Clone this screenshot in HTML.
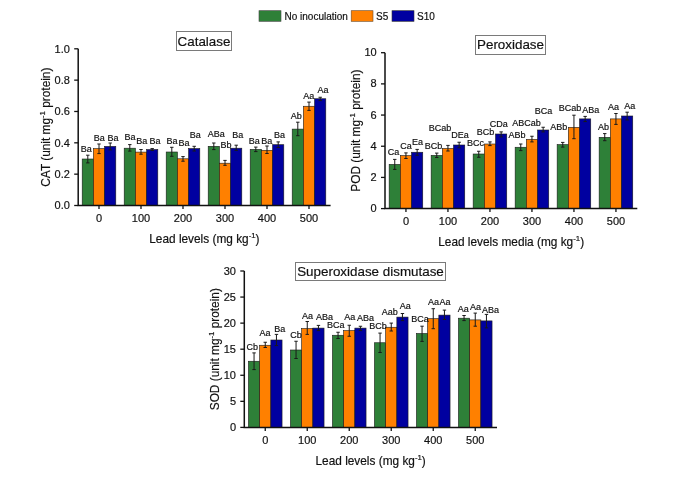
<!DOCTYPE html>
<html><head><meta charset="utf-8"><style>
html,body{margin:0;padding:0;background:#fff;width:685px;height:480px;overflow:hidden}
svg{display:block;will-change:transform}
text{font-family:"Liberation Sans", sans-serif;fill:#111;stroke:#111;stroke-width:0.18px}
</style></head><body>
<svg width="685" height="480" viewBox="0 0 685 480">
<rect width="685" height="480" fill="#fff"/>
<rect x="259" y="10.7" width="22" height="10.6" fill="#2e8038" stroke="#444" stroke-width="0.6"/>
<text x="284.5" y="19.6" font-size="10">No inoculation</text>
<rect x="351.2" y="10.7" width="21.8" height="10.6" fill="#ff8000" stroke="#6a4a2a" stroke-width="0.6"/>
<text x="376" y="19.6" font-size="10">S5</text>
<rect x="392" y="10.7" width="22" height="10.6" fill="#0000a0" stroke="#333" stroke-width="0.6"/>
<text x="417" y="19.6" font-size="10">S10</text>
<rect x="82.2" y="159" width="11.2" height="46.5" fill="#2e8038" stroke="#1a1a1a" stroke-width="0.6"/>
<rect x="93.4" y="148.6" width="11.2" height="56.9" fill="#ff8000" stroke="#1a1a1a" stroke-width="0.6"/>
<rect x="104.6" y="146.4" width="11.2" height="59.1" fill="#0000a0" stroke="#1a1a1a" stroke-width="0.6"/>
<rect x="124.2" y="148.2" width="11.2" height="57.3" fill="#2e8038" stroke="#1a1a1a" stroke-width="0.6"/>
<rect x="135.4" y="152.1" width="11.2" height="53.4" fill="#ff8000" stroke="#1a1a1a" stroke-width="0.6"/>
<rect x="146.6" y="149.5" width="11.2" height="56" fill="#0000a0" stroke="#1a1a1a" stroke-width="0.6"/>
<rect x="166.2" y="152" width="11.2" height="53.5" fill="#2e8038" stroke="#1a1a1a" stroke-width="0.6"/>
<rect x="177.4" y="158.8" width="11.2" height="46.7" fill="#ff8000" stroke="#1a1a1a" stroke-width="0.6"/>
<rect x="188.6" y="148.6" width="11.2" height="56.9" fill="#0000a0" stroke="#1a1a1a" stroke-width="0.6"/>
<rect x="208.2" y="146.3" width="11.2" height="59.2" fill="#2e8038" stroke="#1a1a1a" stroke-width="0.6"/>
<rect x="219.4" y="163.2" width="11.2" height="42.3" fill="#ff8000" stroke="#1a1a1a" stroke-width="0.6"/>
<rect x="230.6" y="148.2" width="11.2" height="57.3" fill="#0000a0" stroke="#1a1a1a" stroke-width="0.6"/>
<rect x="250.2" y="149.4" width="11.2" height="56.1" fill="#2e8038" stroke="#1a1a1a" stroke-width="0.6"/>
<rect x="261.4" y="150.3" width="11.2" height="55.2" fill="#ff8000" stroke="#1a1a1a" stroke-width="0.6"/>
<rect x="272.6" y="144.7" width="11.2" height="60.8" fill="#0000a0" stroke="#1a1a1a" stroke-width="0.6"/>
<rect x="292.2" y="129.1" width="11.2" height="76.4" fill="#2e8038" stroke="#1a1a1a" stroke-width="0.6"/>
<rect x="303.4" y="106.25" width="11.2" height="99.25" fill="#ff8000" stroke="#1a1a1a" stroke-width="0.6"/>
<rect x="314.6" y="98.75" width="11.2" height="106.75" fill="#0000a0" stroke="#1a1a1a" stroke-width="0.6"/>
<path d="M87.8 155.2V162.9M86.1 155.2H89.5M86.1 162.9H89.5" stroke="#1a1a1a" stroke-width="1" fill="none"/>
<text x="86.35" y="151.7" font-size="9" text-anchor="middle">Ba</text>
<path d="M99 144V153.6M97.3 144H100.7M97.3 153.6H100.7" stroke="#1a1a1a" stroke-width="1" fill="none"/>
<text x="99.15" y="140.5" font-size="9" text-anchor="middle">Ba</text>
<path d="M110.2 143V149.9M108.5 143H111.9M108.5 149.9H111.9" stroke="#1a1a1a" stroke-width="1" fill="none"/>
<text x="113.05" y="140.5" font-size="9" text-anchor="middle">Ba</text>
<path d="M129.8 144.6V151.1M128.1 144.6H131.5M128.1 151.1H131.5" stroke="#1a1a1a" stroke-width="1" fill="none"/>
<text x="129.95" y="139.7" font-size="9" text-anchor="middle">Ba</text>
<path d="M141 149.5V154.2M139.3 149.5H142.7M139.3 154.2H142.7" stroke="#1a1a1a" stroke-width="1" fill="none"/>
<text x="141.8" y="144.3" font-size="9" text-anchor="middle">Ba</text>
<path d="M152.2 148.6V150.5M150.5 148.6H153.9M150.5 150.5H153.9" stroke="#1a1a1a" stroke-width="1" fill="none"/>
<text x="155.05" y="144.3" font-size="9" text-anchor="middle">Ba</text>
<path d="M171.8 147.3V156.3M170.1 147.3H173.5M170.1 156.3H173.5" stroke="#1a1a1a" stroke-width="1" fill="none"/>
<text x="172.1" y="143.6" font-size="9" text-anchor="middle">Ba</text>
<path d="M183 156.6V161.2M181.3 156.6H184.7M181.3 161.2H184.7" stroke="#1a1a1a" stroke-width="1" fill="none"/>
<text x="183.9" y="146.3" font-size="9" text-anchor="middle">Ba</text>
<path d="M194.2 146.3V151M192.5 146.3H195.9M192.5 151H195.9" stroke="#1a1a1a" stroke-width="1" fill="none"/>
<text x="195.25" y="138" font-size="9" text-anchor="middle">Ba</text>
<path d="M213.8 143V149.6M212.1 143H215.5M212.1 149.6H215.5" stroke="#1a1a1a" stroke-width="1" fill="none"/>
<text x="216.3" y="136.8" font-size="9" text-anchor="middle">ABa</text>
<path d="M225 160.4V165.3M223.3 160.4H226.7M223.3 165.3H226.7" stroke="#1a1a1a" stroke-width="1" fill="none"/>
<text x="226.05" y="148" font-size="9" text-anchor="middle">Bb</text>
<path d="M236.2 145.2V150.4M234.5 145.2H237.9M234.5 150.4H237.9" stroke="#1a1a1a" stroke-width="1" fill="none"/>
<text x="237.75" y="138" font-size="9" text-anchor="middle">Ba</text>
<path d="M255.8 147.1V151.6M254.1 147.1H257.5M254.1 151.6H257.5" stroke="#1a1a1a" stroke-width="1" fill="none"/>
<text x="254.18" y="143.8" font-size="9" text-anchor="middle">Ba</text>
<path d="M267 146V153.5M265.3 146H268.7M265.3 153.5H268.7" stroke="#1a1a1a" stroke-width="1" fill="none"/>
<text x="266.85" y="143.8" font-size="9" text-anchor="middle">Ba</text>
<path d="M278.2 141.9V147.5M276.5 141.9H279.9M276.5 147.5H279.9" stroke="#1a1a1a" stroke-width="1" fill="none"/>
<text x="279.43" y="138.1" font-size="9" text-anchor="middle">Ba</text>
<path d="M297.8 122.2V135.7M296.1 122.2H299.5M296.1 135.7H299.5" stroke="#1a1a1a" stroke-width="1" fill="none"/>
<text x="296.35" y="119" font-size="9" text-anchor="middle">Ab</text>
<path d="M309 102.1V110.4M307.3 102.1H310.7M307.3 110.4H310.7" stroke="#1a1a1a" stroke-width="1" fill="none"/>
<text x="308.75" y="98.75" font-size="9" text-anchor="middle">Aa</text>
<path d="M320.2 97.25V100.6M318.5 97.25H321.9M318.5 100.6H321.9" stroke="#1a1a1a" stroke-width="1" fill="none"/>
<text x="323.07" y="93.1" font-size="9" text-anchor="middle">Aa</text>
<path d="M78.2 48.8V205.5H330.6" stroke="#111" stroke-width="1.5" fill="none"/>
<path d="M74.2 205.5H78.2" stroke="#111" stroke-width="1.3"/>
<text x="69.9" y="209.4" font-size="11" text-anchor="end">0.0</text>
<path d="M74.2 174.16H78.2" stroke="#111" stroke-width="1.3"/>
<text x="69.9" y="178.06" font-size="11" text-anchor="end">0.2</text>
<path d="M74.2 142.82H78.2" stroke="#111" stroke-width="1.3"/>
<text x="69.9" y="146.72" font-size="11" text-anchor="end">0.4</text>
<path d="M74.2 111.48H78.2" stroke="#111" stroke-width="1.3"/>
<text x="69.9" y="115.38" font-size="11" text-anchor="end">0.6</text>
<path d="M74.2 80.14H78.2" stroke="#111" stroke-width="1.3"/>
<text x="69.9" y="84.04" font-size="11" text-anchor="end">0.8</text>
<path d="M74.2 48.8H78.2" stroke="#111" stroke-width="1.3"/>
<text x="69.9" y="52.7" font-size="11" text-anchor="end">1.0</text>
<path d="M99 205.5V209" stroke="#111" stroke-width="1.3"/>
<text x="99" y="221.7" font-size="11" text-anchor="middle">0</text>
<path d="M141 205.5V209" stroke="#111" stroke-width="1.3"/>
<text x="141" y="221.7" font-size="11" text-anchor="middle">100</text>
<path d="M183 205.5V209" stroke="#111" stroke-width="1.3"/>
<text x="183" y="221.7" font-size="11" text-anchor="middle">200</text>
<path d="M225 205.5V209" stroke="#111" stroke-width="1.3"/>
<text x="225" y="221.7" font-size="11" text-anchor="middle">300</text>
<path d="M267 205.5V209" stroke="#111" stroke-width="1.3"/>
<text x="267" y="221.7" font-size="11" text-anchor="middle">400</text>
<path d="M309 205.5V209" stroke="#111" stroke-width="1.3"/>
<text x="309" y="221.7" font-size="11" text-anchor="middle">500</text>
<text x="204.4" y="243" font-size="11.85" text-anchor="middle">Lead levels (mg kg<tspan font-size="7.8" dy="-5.3">-1</tspan><tspan dy="5.3">)</tspan></text>
<text transform="translate(50.2 127.15) rotate(-90)" x="0" y="0" font-size="11.85" text-anchor="middle">CAT (unit mg<tspan font-size="7.8" dy="-5.3">-1</tspan><tspan dy="5.3"> protein)</tspan></text>
<rect x="176.5" y="31.5" width="55" height="19" fill="#fff" stroke="#7a7a7a" stroke-width="1"/>
<text x="204" y="45.8" font-size="13.4" text-anchor="middle">Catalase</text>
<rect x="389.15" y="164.4" width="11.2" height="44.2" fill="#2e8038" stroke="#1a1a1a" stroke-width="0.6"/>
<rect x="400.35" y="155.6" width="11.2" height="53" fill="#ff8000" stroke="#1a1a1a" stroke-width="0.6"/>
<rect x="411.55" y="152.25" width="11.2" height="56.35" fill="#0000a0" stroke="#1a1a1a" stroke-width="0.6"/>
<rect x="431.15" y="155.4" width="11.2" height="53.2" fill="#2e8038" stroke="#1a1a1a" stroke-width="0.6"/>
<rect x="442.35" y="148.5" width="11.2" height="60.1" fill="#ff8000" stroke="#1a1a1a" stroke-width="0.6"/>
<rect x="453.55" y="145" width="11.2" height="63.6" fill="#0000a0" stroke="#1a1a1a" stroke-width="0.6"/>
<rect x="473.15" y="154" width="11.2" height="54.6" fill="#2e8038" stroke="#1a1a1a" stroke-width="0.6"/>
<rect x="484.35" y="144" width="11.2" height="64.6" fill="#ff8000" stroke="#1a1a1a" stroke-width="0.6"/>
<rect x="495.55" y="134" width="11.2" height="74.6" fill="#0000a0" stroke="#1a1a1a" stroke-width="0.6"/>
<rect x="515.15" y="147.25" width="11.2" height="61.35" fill="#2e8038" stroke="#1a1a1a" stroke-width="0.6"/>
<rect x="526.35" y="139.4" width="11.2" height="69.2" fill="#ff8000" stroke="#1a1a1a" stroke-width="0.6"/>
<rect x="537.55" y="130" width="11.2" height="78.6" fill="#0000a0" stroke="#1a1a1a" stroke-width="0.6"/>
<rect x="557.15" y="144.6" width="11.2" height="64" fill="#2e8038" stroke="#1a1a1a" stroke-width="0.6"/>
<rect x="568.35" y="127.3" width="11.2" height="81.3" fill="#ff8000" stroke="#1a1a1a" stroke-width="0.6"/>
<rect x="579.55" y="118.9" width="11.2" height="89.7" fill="#0000a0" stroke="#1a1a1a" stroke-width="0.6"/>
<rect x="599.15" y="137.3" width="11.2" height="71.3" fill="#2e8038" stroke="#1a1a1a" stroke-width="0.6"/>
<rect x="610.35" y="118.9" width="11.2" height="89.7" fill="#ff8000" stroke="#1a1a1a" stroke-width="0.6"/>
<rect x="621.55" y="116" width="11.2" height="92.6" fill="#0000a0" stroke="#1a1a1a" stroke-width="0.6"/>
<path d="M394.75 159.4V169.4M393.05 159.4H396.45M393.05 169.4H396.45" stroke="#1a1a1a" stroke-width="1" fill="none"/>
<text x="393.43" y="154.75" font-size="9" text-anchor="middle">Ca</text>
<path d="M405.95 152.9V158.5M404.25 152.9H407.65M404.25 158.5H407.65" stroke="#1a1a1a" stroke-width="1" fill="none"/>
<text x="405.93" y="149" font-size="9" text-anchor="middle">Ca</text>
<path d="M417.15 149.4V155.25M415.45 149.4H418.85M415.45 155.25H418.85" stroke="#1a1a1a" stroke-width="1" fill="none"/>
<text x="417.5" y="144.75" font-size="9" text-anchor="middle">Ea</text>
<path d="M436.75 153.1V157.5M435.05 153.1H438.45M435.05 157.5H438.45" stroke="#1a1a1a" stroke-width="1" fill="none"/>
<text x="433.45" y="148.75" font-size="9" text-anchor="middle">BCb</text>
<path d="M447.95 145.4V151M446.25 145.4H449.65M446.25 151H449.65" stroke="#1a1a1a" stroke-width="1" fill="none"/>
<text x="440" y="131" font-size="9" text-anchor="middle">BCab</text>
<path d="M459.15 142.25V147.75M457.45 142.25H460.85M457.45 147.75H460.85" stroke="#1a1a1a" stroke-width="1" fill="none"/>
<text x="460" y="137.5" font-size="9" text-anchor="middle">DEa</text>
<path d="M478.75 151.25V157.25M477.05 151.25H480.45M477.05 157.25H480.45" stroke="#1a1a1a" stroke-width="1" fill="none"/>
<text x="475.45" y="146" font-size="9" text-anchor="middle">BCc</text>
<path d="M489.95 141.9V145.6M488.25 141.9H491.65M488.25 145.6H491.65" stroke="#1a1a1a" stroke-width="1" fill="none"/>
<text x="485.55" y="135.25" font-size="9" text-anchor="middle">BCb</text>
<path d="M501.15 131.9V136.9M499.45 131.9H502.85M499.45 136.9H502.85" stroke="#1a1a1a" stroke-width="1" fill="none"/>
<text x="498.88" y="126.9" font-size="9" text-anchor="middle">CDa</text>
<path d="M520.75 144V150.6M519.05 144H522.45M519.05 150.6H522.45" stroke="#1a1a1a" stroke-width="1" fill="none"/>
<text x="517.08" y="137.75" font-size="9" text-anchor="middle">ABb</text>
<path d="M531.95 136.25V141.9M530.25 136.25H533.65M530.25 141.9H533.65" stroke="#1a1a1a" stroke-width="1" fill="none"/>
<text x="526.58" y="125.6" font-size="9" text-anchor="middle">ABCab</text>
<path d="M543.15 127.25V131.9M541.45 127.25H544.85M541.45 131.9H544.85" stroke="#1a1a1a" stroke-width="1" fill="none"/>
<text x="543.48" y="113.8" font-size="9" text-anchor="middle">BCa</text>
<path d="M562.75 142.4V147.1M561.05 142.4H564.45M561.05 147.1H564.45" stroke="#1a1a1a" stroke-width="1" fill="none"/>
<text x="558.7" y="130" font-size="9" text-anchor="middle">ABb</text>
<path d="M573.95 115.2V138.7M572.25 115.2H575.65M572.25 138.7H575.65" stroke="#1a1a1a" stroke-width="1" fill="none"/>
<text x="569.9" y="111" font-size="9" text-anchor="middle">BCab</text>
<path d="M585.15 116.4V121.6M583.45 116.4H586.85M583.45 121.6H586.85" stroke="#1a1a1a" stroke-width="1" fill="none"/>
<text x="590.8" y="113.2" font-size="9" text-anchor="middle">ABa</text>
<path d="M604.75 133.6V140.7M603.05 133.6H606.45M603.05 140.7H606.45" stroke="#1a1a1a" stroke-width="1" fill="none"/>
<text x="603.45" y="130.3" font-size="9" text-anchor="middle">Ab</text>
<path d="M615.95 113.5V124.4M614.25 113.5H617.65M614.25 124.4H617.65" stroke="#1a1a1a" stroke-width="1" fill="none"/>
<text x="613.5" y="110.1" font-size="9" text-anchor="middle">Aa</text>
<path d="M627.15 112.2V119.9M625.45 112.2H628.85M625.45 119.9H628.85" stroke="#1a1a1a" stroke-width="1" fill="none"/>
<text x="629.85" y="108.5" font-size="9" text-anchor="middle">Aa</text>
<path d="M385 52.7V208.6H637.3" stroke="#111" stroke-width="1.5" fill="none"/>
<path d="M381 208.6H385" stroke="#111" stroke-width="1.3"/>
<text x="376.7" y="212.2" font-size="11" text-anchor="end">0</text>
<path d="M381 177.42H385" stroke="#111" stroke-width="1.3"/>
<text x="376.7" y="181.02" font-size="11" text-anchor="end">2</text>
<path d="M381 146.24H385" stroke="#111" stroke-width="1.3"/>
<text x="376.7" y="149.84" font-size="11" text-anchor="end">4</text>
<path d="M381 115.06H385" stroke="#111" stroke-width="1.3"/>
<text x="376.7" y="118.66" font-size="11" text-anchor="end">6</text>
<path d="M381 83.88H385" stroke="#111" stroke-width="1.3"/>
<text x="376.7" y="87.48" font-size="11" text-anchor="end">8</text>
<path d="M381 52.7H385" stroke="#111" stroke-width="1.3"/>
<text x="376.7" y="56.3" font-size="11" text-anchor="end">10</text>
<path d="M405.95 208.6V212.1" stroke="#111" stroke-width="1.3"/>
<text x="405.95" y="224.8" font-size="11" text-anchor="middle">0</text>
<path d="M447.95 208.6V212.1" stroke="#111" stroke-width="1.3"/>
<text x="447.95" y="224.8" font-size="11" text-anchor="middle">100</text>
<path d="M489.95 208.6V212.1" stroke="#111" stroke-width="1.3"/>
<text x="489.95" y="224.8" font-size="11" text-anchor="middle">200</text>
<path d="M531.95 208.6V212.1" stroke="#111" stroke-width="1.3"/>
<text x="531.95" y="224.8" font-size="11" text-anchor="middle">300</text>
<path d="M573.95 208.6V212.1" stroke="#111" stroke-width="1.3"/>
<text x="573.95" y="224.8" font-size="11" text-anchor="middle">400</text>
<path d="M615.95 208.6V212.1" stroke="#111" stroke-width="1.3"/>
<text x="615.95" y="224.8" font-size="11" text-anchor="middle">500</text>
<text x="511.15" y="246.1" font-size="11.85" text-anchor="middle">Lead levels media (mg kg<tspan font-size="7.8" dy="-5.3">-1</tspan><tspan dy="5.3">)</tspan></text>
<text transform="translate(360.2 130.65) rotate(-90)" x="0" y="0" font-size="11.85" text-anchor="middle">POD (unit mg<tspan font-size="7.8" dy="-5.3">-1</tspan><tspan dy="5.3"> protein)</tspan></text>
<rect x="475.5" y="35.5" width="70" height="19" fill="#fff" stroke="#7a7a7a" stroke-width="1"/>
<text x="510.5" y="48.7" font-size="13.4" text-anchor="middle">Peroxidase</text>
<rect x="248.45" y="361.25" width="11.2" height="66.15" fill="#2e8038" stroke="#1a1a1a" stroke-width="0.6"/>
<rect x="259.65" y="345.25" width="11.2" height="82.15" fill="#ff8000" stroke="#1a1a1a" stroke-width="0.6"/>
<rect x="270.85" y="340" width="11.2" height="87.4" fill="#0000a0" stroke="#1a1a1a" stroke-width="0.6"/>
<rect x="290.45" y="350" width="11.2" height="77.4" fill="#2e8038" stroke="#1a1a1a" stroke-width="0.6"/>
<rect x="301.65" y="328.5" width="11.2" height="98.9" fill="#ff8000" stroke="#1a1a1a" stroke-width="0.6"/>
<rect x="312.85" y="328.1" width="11.2" height="99.3" fill="#0000a0" stroke="#1a1a1a" stroke-width="0.6"/>
<rect x="332.45" y="335.25" width="11.2" height="92.15" fill="#2e8038" stroke="#1a1a1a" stroke-width="0.6"/>
<rect x="343.65" y="330.6" width="11.2" height="96.8" fill="#ff8000" stroke="#1a1a1a" stroke-width="0.6"/>
<rect x="354.85" y="328.1" width="11.2" height="99.3" fill="#0000a0" stroke="#1a1a1a" stroke-width="0.6"/>
<rect x="374.45" y="342.75" width="11.2" height="84.65" fill="#2e8038" stroke="#1a1a1a" stroke-width="0.6"/>
<rect x="385.65" y="327.25" width="11.2" height="100.15" fill="#ff8000" stroke="#1a1a1a" stroke-width="0.6"/>
<rect x="396.85" y="317.1" width="11.2" height="110.3" fill="#0000a0" stroke="#1a1a1a" stroke-width="0.6"/>
<rect x="416.45" y="333.5" width="11.2" height="93.9" fill="#2e8038" stroke="#1a1a1a" stroke-width="0.6"/>
<rect x="427.65" y="318.7" width="11.2" height="108.7" fill="#ff8000" stroke="#1a1a1a" stroke-width="0.6"/>
<rect x="438.85" y="315.1" width="11.2" height="112.3" fill="#0000a0" stroke="#1a1a1a" stroke-width="0.6"/>
<rect x="458.45" y="318.2" width="11.2" height="109.2" fill="#2e8038" stroke="#1a1a1a" stroke-width="0.6"/>
<rect x="469.65" y="319.9" width="11.2" height="107.5" fill="#ff8000" stroke="#1a1a1a" stroke-width="0.6"/>
<rect x="480.85" y="320.9" width="11.2" height="106.5" fill="#0000a0" stroke="#1a1a1a" stroke-width="0.6"/>
<path d="M254.05 352.9V369.6M252.35 352.9H255.75M252.35 369.6H255.75" stroke="#1a1a1a" stroke-width="1" fill="none"/>
<text x="252.25" y="349.75" font-size="9" text-anchor="middle">Cb</text>
<path d="M265.25 342.25V347.5M263.55 342.25H266.95M263.55 347.5H266.95" stroke="#1a1a1a" stroke-width="1" fill="none"/>
<text x="265.12" y="336.25" font-size="9" text-anchor="middle">Aa</text>
<path d="M276.45 334.4V345.6M274.75 334.4H278.15M274.75 345.6H278.15" stroke="#1a1a1a" stroke-width="1" fill="none"/>
<text x="279.8" y="331.9" font-size="9" text-anchor="middle">Ba</text>
<path d="M296.05 341.25V358.5M294.35 341.25H297.75M294.35 358.5H297.75" stroke="#1a1a1a" stroke-width="1" fill="none"/>
<text x="296.12" y="337.75" font-size="9" text-anchor="middle">Cb</text>
<path d="M307.25 321.5V334.4M305.55 321.5H308.95M305.55 334.4H308.95" stroke="#1a1a1a" stroke-width="1" fill="none"/>
<text x="307.43" y="318.75" font-size="9" text-anchor="middle">Aa</text>
<path d="M318.45 325.4V330.6M316.75 325.4H320.15M316.75 330.6H320.15" stroke="#1a1a1a" stroke-width="1" fill="none"/>
<text x="324.5" y="319.75" font-size="9" text-anchor="middle">ABa</text>
<path d="M338.05 332.25V338.5M336.35 332.25H339.75M336.35 338.5H339.75" stroke="#1a1a1a" stroke-width="1" fill="none"/>
<text x="335.88" y="327.75" font-size="9" text-anchor="middle">BCa</text>
<path d="M349.25 325.25V336.25M347.55 325.25H350.95M347.55 336.25H350.95" stroke="#1a1a1a" stroke-width="1" fill="none"/>
<text x="349.88" y="319.75" font-size="9" text-anchor="middle">Aa</text>
<path d="M360.45 326.25V330.6M358.75 326.25H362.15M358.75 330.6H362.15" stroke="#1a1a1a" stroke-width="1" fill="none"/>
<text x="365.5" y="320.6" font-size="9" text-anchor="middle">ABa</text>
<path d="M380.05 333.1V352.5M378.35 333.1H381.75M378.35 352.5H381.75" stroke="#1a1a1a" stroke-width="1" fill="none"/>
<text x="378" y="328.5" font-size="9" text-anchor="middle">BCb</text>
<path d="M391.25 323.1V331M389.55 323.1H392.95M389.55 331H392.95" stroke="#1a1a1a" stroke-width="1" fill="none"/>
<text x="389.82" y="314.75" font-size="9" text-anchor="middle">Aab</text>
<path d="M402.45 313.5V320.6M400.75 313.5H404.15M400.75 320.6H404.15" stroke="#1a1a1a" stroke-width="1" fill="none"/>
<text x="405.25" y="309.4" font-size="9" text-anchor="middle">Aa</text>
<path d="M422.05 326.2V341.4M420.35 326.2H423.75M420.35 341.4H423.75" stroke="#1a1a1a" stroke-width="1" fill="none"/>
<text x="420.1" y="322.4" font-size="9" text-anchor="middle">BCa</text>
<path d="M433.25 308.7V328.7M431.55 308.7H434.95M431.55 328.7H434.95" stroke="#1a1a1a" stroke-width="1" fill="none"/>
<text x="433.45" y="305.3" font-size="9" text-anchor="middle">Aa</text>
<path d="M444.45 310.1V319.5M442.75 310.1H446.15M442.75 319.5H446.15" stroke="#1a1a1a" stroke-width="1" fill="none"/>
<text x="444.95" y="305.3" font-size="9" text-anchor="middle">Aa</text>
<path d="M464.05 315.5V320.6M462.35 315.5H465.75M462.35 320.6H465.75" stroke="#1a1a1a" stroke-width="1" fill="none"/>
<text x="463.15" y="311.9" font-size="9" text-anchor="middle">Aa</text>
<path d="M475.25 313.1V326.2M473.55 313.1H476.95M473.55 326.2H476.95" stroke="#1a1a1a" stroke-width="1" fill="none"/>
<text x="475.4" y="309.7" font-size="9" text-anchor="middle">Aa</text>
<path d="M486.45 314.4V327.9M484.75 314.4H488.15M484.75 327.9H488.15" stroke="#1a1a1a" stroke-width="1" fill="none"/>
<text x="490.55" y="312.6" font-size="9" text-anchor="middle">ABa</text>
<path d="M244.3 271V427.4H497" stroke="#111" stroke-width="1.5" fill="none"/>
<path d="M240.3 427.4H244.3" stroke="#111" stroke-width="1.3"/>
<text x="236" y="431" font-size="11" text-anchor="end">0</text>
<path d="M240.3 401.33H244.3" stroke="#111" stroke-width="1.3"/>
<text x="236" y="404.93" font-size="11" text-anchor="end">5</text>
<path d="M240.3 375.27H244.3" stroke="#111" stroke-width="1.3"/>
<text x="236" y="378.87" font-size="11" text-anchor="end">10</text>
<path d="M240.3 349.2H244.3" stroke="#111" stroke-width="1.3"/>
<text x="236" y="352.8" font-size="11" text-anchor="end">15</text>
<path d="M240.3 323.13H244.3" stroke="#111" stroke-width="1.3"/>
<text x="236" y="326.73" font-size="11" text-anchor="end">20</text>
<path d="M240.3 297.07H244.3" stroke="#111" stroke-width="1.3"/>
<text x="236" y="300.67" font-size="11" text-anchor="end">25</text>
<path d="M240.3 271H244.3" stroke="#111" stroke-width="1.3"/>
<text x="236" y="274.6" font-size="11" text-anchor="end">30</text>
<path d="M265.25 427.4V430.9" stroke="#111" stroke-width="1.3"/>
<text x="265.25" y="443.6" font-size="11" text-anchor="middle">0</text>
<path d="M307.25 427.4V430.9" stroke="#111" stroke-width="1.3"/>
<text x="307.25" y="443.6" font-size="11" text-anchor="middle">100</text>
<path d="M349.25 427.4V430.9" stroke="#111" stroke-width="1.3"/>
<text x="349.25" y="443.6" font-size="11" text-anchor="middle">200</text>
<path d="M391.25 427.4V430.9" stroke="#111" stroke-width="1.3"/>
<text x="391.25" y="443.6" font-size="11" text-anchor="middle">300</text>
<path d="M433.25 427.4V430.9" stroke="#111" stroke-width="1.3"/>
<text x="433.25" y="443.6" font-size="11" text-anchor="middle">400</text>
<path d="M475.25 427.4V430.9" stroke="#111" stroke-width="1.3"/>
<text x="475.25" y="443.6" font-size="11" text-anchor="middle">500</text>
<text x="370.65" y="464.9" font-size="11.85" text-anchor="middle">Lead levels (mg kg<tspan font-size="7.8" dy="-5.3">-1</tspan><tspan dy="5.3">)</tspan></text>
<text transform="translate(219.2 349.2) rotate(-90)" x="0" y="0" font-size="11.85" text-anchor="middle">SOD (unit mg<tspan font-size="7.8" dy="-5.3">-1</tspan><tspan dy="5.3"> protein)</tspan></text>
<rect x="295.5" y="262.5" width="150" height="18" fill="#fff" stroke="#7a7a7a" stroke-width="1"/>
<text x="370.5" y="275.8" font-size="13.4" text-anchor="middle">Superoxidase dismutase</text>
</svg>
</body></html>
